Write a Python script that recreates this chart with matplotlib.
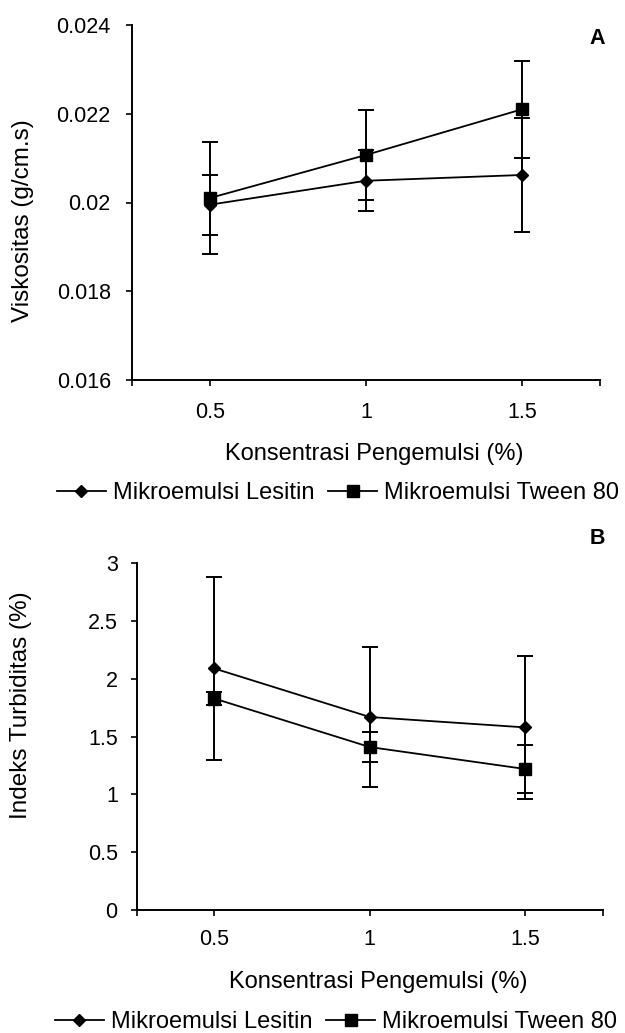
import matplotlib
matplotlib.use("Agg")
import matplotlib.pyplot as plt
from matplotlib.lines import Line2D

plt.rcParams['font.family'] = ['Liberation Sans', 'DejaVu Sans']

# ---- data ----
konsentrasi = [0.5, 1.0, 1.5]
series_names = ["Mikroemulsi Lesitin", "Mikroemulsi Tween 80"]

visk_lesitin = [0.01995, 0.02049, 0.02062]
visk_lesitin_err = [0.00068, 0.00069, 0.00128]
visk_tween = [0.02010, 0.02107, 0.02210]
visk_tween_err = [0.00126, 0.00101, 0.00110]

turb_lesitin = [2.09, 1.67, 1.58]
turb_lesitin_err = [0.79, 0.61, 0.62]
turb_tween = [1.83, 1.41, 1.22]
turb_tween_err = [0.06, 0.13, 0.21]

xtick_vals = [0.25, 0.5, 1.0, 1.5, 1.75]
xtick_labels = ["", "0.5", "1", "1.5", ""]
visk_ticks = [0.016, 0.018, 0.020, 0.022, 0.024]
visk_ticklabels = ["0.016", "0.018", "0.02", "0.022", "0.024"]
turb_ticks = [0, 0.5, 1, 1.5, 2, 2.5, 3]
turb_ticklabels = ["0", "0.5", "1", "1.5", "2", "2.5", "3"]

W, H = 625, 1033
fig = plt.figure(figsize=(W / 100, H / 100), dpi=100)

FS = 15.5      # tick labels
LFS = 17       # axis labels / legend


def px_axes(left, right, top, bottom):
    return fig.add_axes([left / W, 1 - bottom / H, (right - left) / W, (bottom - top) / H])


def style(ax, ypad, xpad):
    for s in ("top", "right"):
        ax.spines[s].set_visible(False)
    for s in ("left", "bottom"):
        ax.spines[s].set_linewidth(1.4)
    ax.tick_params(axis="both", direction="out", length=4.5, width=1.2, labelsize=FS)
    ax.tick_params(axis="y", pad=ypad)
    ax.tick_params(axis="x", pad=xpad)
    ax.set_xlim(0.25, 1.75)
    ax.set_xticks(xtick_vals)
    ax.set_xticklabels(xtick_labels)


def draw(ax, y1, e1, y2, e2):
    common = dict(color="black", lw=1.3, elinewidth=1.4, capsize=5.5, capthick=1.4)
    ax.errorbar(konsentrasi, y1, yerr=e1, marker="D", ms=6.5, **common)
    ax.errorbar(konsentrasi, y2, yerr=e2, marker="s", ms=8.5, **common)


# ---- Panel A ----
axA = px_axes(131.7, 600, 25, 380)
style(axA, ypad=10.5, xpad=11)
draw(axA, visk_lesitin, visk_lesitin_err, visk_tween, visk_tween_err)
axA.set_ylim(0.016, 0.024)
axA.set_yticks(visk_ticks)
axA.set_yticklabels(visk_ticklabels)
axA.set_ylabel("Viskositas (g/cm.s)", fontsize=17.5)
axA.yaxis.set_label_coords(-0.209, 0.448)
axA.set_xlabel("Konsentrasi Pengemulsi (%)", fontsize=LFS)
axA.xaxis.set_label_coords(0.517, -0.178)
fig.text(605 / W, 1 - 38 / H, "A", fontsize=FS, fontweight="bold", ha="right", va="center")

# ---- Panel B ----
axB = px_axes(136.5, 603, 563.3, 910)
style(axB, ypad=9, xpad=9)
draw(axB, turb_lesitin, turb_lesitin_err, turb_tween, turb_tween_err)
axB.set_ylim(0, 3)
axB.set_yticks(turb_ticks)
axB.set_yticklabels(turb_ticklabels)
axB.set_ylabel("Indeks Turbiditas (%)", fontsize=17.5)
axB.yaxis.set_label_coords(-0.224, 0.591)
axB.set_xlabel("Konsentrasi Pengemulsi (%)", fontsize=LFS)
axB.xaxis.set_label_coords(0.518, -0.177)
fig.text(605 / W, 1 - 538 / H, "B", fontsize=FS, fontweight="bold", ha="right", va="center")

# ---- legends ----
handles = [
    Line2D([], [], color="black", lw=1.3, marker="D", ms=6.5),
    Line2D([], [], color="black", lw=1.3, marker="s", ms=8.5),
]
for ycen, xcen in ((493, 338), (1022, 336)):
    fig.legend(handles, series_names, loc="center", ncol=2, frameon=False,
               bbox_to_anchor=(xcen / W, 1 - ycen / H), bbox_transform=fig.transFigure,
               fontsize=LFS, handlelength=2.07, handletextpad=0.3, columnspacing=0.6,
               borderpad=0, borderaxespad=0)

fig.savefig("out.png", dpi=100)
